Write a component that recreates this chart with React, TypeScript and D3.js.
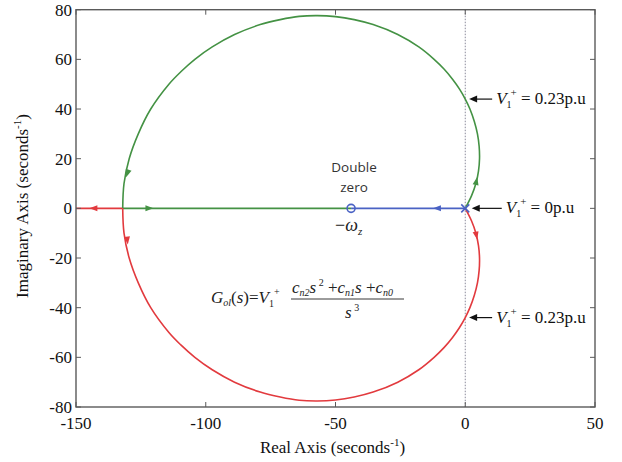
import React from "react";
import * as d3 from "d3";

// Root locus of G_ol(s) = V1+ (cn2 s^2 + cn1 s + cn0) / s^3
// Upper complex branch (green): leaves the triple pole at the origin,
// loops round and meets the real axis at the break-in point.
const greenBranch: [number, number][] = [
  [0, 0], [2.4, 5], [4.1, 10], [5.1, 15], [5.5, 20], [5.35, 25], [4.7, 30],
  [3.5, 35], [1.8, 40], [0, 44], [-2.2, 48], [-4.9, 52], [-8.1, 56],
  [-12, 60], [-17.9, 65], [-26, 70], [-35.5, 74], [-42.8, 76], [-50, 77.2],
  [-57, 77.6], [-64, 77.3], [-71.3, 76], [-79, 74], [-88.9, 70], [-97.5, 65],
  [-104.2, 60], [-109.6, 55], [-114.2, 50], [-121.2, 40], [-126, 30],
  [-129.5, 20], [-131.5, 10], [-132, 0],
];
// After break-in the green root travels right to the double zero.
const greenReal: [number, number][] = [[-132, 0], [-44, 0]];

// Lower complex branch (red) and its run to -infinity along the real axis.
const redBranch: [number, number][] = [
  [0, 0], [2.4, -5], [4.1, -10], [5.1, -15], [5.5, -20], [5.35, -25], [4.7, -30],
  [3.5, -35], [1.8, -40], [0, -44], [-2.2, -48], [-4.9, -52], [-8.1, -56],
  [-12, -60], [-17.9, -65], [-26, -70], [-35.5, -74], [-42.8, -76], [-50, -77.2],
  [-57, -77.6], [-64, -77.3], [-71.3, -76], [-79, -74], [-88.9, -70], [-97.5, -65],
  [-104.2, -60], [-109.6, -55], [-114.2, -50], [-121.2, -40], [-126, -30],
  [-129.5, -20], [-131.5, -10], [-132, 0],
];
const redReal: [number, number][] = [[-132, 0], [-150, 0]];

// Real branch (blue): origin to the double zero.
const blueReal: [number, number][] = [[0, 0], [-44, 0]];

const doubleZero = -44;
const polePoint: [number, number] = [0, 0];

// Direction arrows: [x, y, towardX, towardY]
const greenArrows: [number, number, number, number][] = [
  [4.3, 11, 5.1, 15],
  [-130.2, 14, -131.5, 10],
  [-121.7, 0, -110, 0],
];
const redArrows: [number, number, number, number][] = [
  [4.3, -11, 5.1, -15],
  [-130.2, -13, -129.5, -20],
  [-143.3, 0, -150, 0],
];
const blueArrows: [number, number, number, number][] = [[-10.9, 0, -20, 0]];

// Gain annotations: pointed-at location and label value
const gainNotes: { x: number; y: number; value: string; arrowLen: number }[] = [
  { x: 1.5, y: 44, value: "0.23", arrowLen: 23 },
  { x: 2.5, y: 0, value: "0", arrowLen: 30 },
  { x: 1.5, y: -44, value: "0.23", arrowLen: 23 },
];

const xTicks = [-150, -100, -50, 0, 50];
const yTicks = [-80, -60, -40, -20, 0, 20, 40, 60, 80];

const W = 622;
const H = 462;
const left = 76;
const right = 595;
const top = 9.7;
const bottom = 407;

const GREEN = "#449244";
const RED = "#e23a3e";
const BLUE = "#4a62c4";
const AXIS = "#5a5a5a";
const SERIF = "Liberation Serif";
const SANS = "Open Sans";

const serif = { fontFamily: SERIF };

export default function App() {
  const x = d3.scaleLinear().domain([-150, 50]).range([left, right]);
  const y = d3.scaleLinear().domain([-80, 80]).range([bottom, top]);

  const smooth = d3
    .line<[number, number]>()
    .x((d) => x(d[0]))
    .y((d) => y(d[1]))
    .curve(d3.curveCatmullRom.alpha(0.5));
  const straight = d3
    .line<[number, number]>()
    .x((d) => x(d[0]))
    .y((d) => y(d[1]));

  const arrowHead = (a: [number, number, number, number], color: string, key: string) => {
    const px = x(a[0]);
    const py = y(a[1]);
    const ang = Math.atan2(y(a[3]) - py, x(a[2]) - px) * (180 / Math.PI);
    return (
      <path
        key={key}
        d="M4,0 L-4,-3 L-4,3 Z"
        fill={color}
        transform={`translate(${px},${py}) rotate(${ang})`}
      />
    );
  };

  const x0 = x(polePoint[0]);
  const y0 = y(polePoint[1]);

  return (
    <svg
      width={W}
      height={H}
      style={{ position: "absolute", left: 0, top: 0, background: "#fff" }}
    >
      <rect x={0} y={0} width={W} height={H} fill="#fff" />

      {/* imaginary axis reference */}
      <line
        x1={x(0)}
        x2={x(0)}
        y1={top}
        y2={bottom}
        stroke="#8a8a9a"
        strokeWidth={1}
        strokeDasharray="1.5,1.5"
      />

      {/* loci */}
      <path d={straight(blueReal) ?? ""} fill="none" stroke={BLUE} strokeWidth={1.6} />
      <path d={straight(greenReal) ?? ""} fill="none" stroke={GREEN} strokeWidth={1.6} />
      <path d={straight(redReal) ?? ""} fill="none" stroke={RED} strokeWidth={1.6} />
      <path d={smooth(greenBranch) ?? ""} fill="none" stroke={GREEN} strokeWidth={1.6} />
      <path d={smooth(redBranch) ?? ""} fill="none" stroke={RED} strokeWidth={1.6} />

      {greenArrows.map((a, i) => arrowHead(a, GREEN, `g${i}`))}
      {redArrows.map((a, i) => arrowHead(a, RED, `r${i}`))}
      {blueArrows.map((a, i) => arrowHead(a, BLUE, `b${i}`))}

      {/* double zero and triple pole markers */}
      <circle cx={x(doubleZero)} cy={y(0)} r={4} fill="none" stroke={BLUE} strokeWidth={1.6} />
      <g stroke={BLUE} strokeWidth={1.6}>
        <line x1={x0 - 4} y1={y0 - 4} x2={x0 + 4} y2={y0 + 4} />
        <line x1={x0 - 4} y1={y0 + 4} x2={x0 + 4} y2={y0 - 4} />
      </g>

      {/* axes box with inward ticks */}
      <rect
        x={left}
        y={top}
        width={right - left}
        height={bottom - top}
        fill="none"
        stroke={AXIS}
        strokeWidth={1.4}
      />
      {xTicks.map((t) => (
        <g key={`xt${t}`} stroke={AXIS} strokeWidth={1}>
          <line x1={x(t)} x2={x(t)} y1={bottom} y2={bottom - 5} />
          <line x1={x(t)} x2={x(t)} y1={top} y2={top + 5} />
        </g>
      ))}
      {yTicks.map((t) => (
        <g key={`yt${t}`} stroke={AXIS} strokeWidth={1}>
          <line x1={left} x2={left + 5} y1={y(t)} y2={y(t)} />
          <line x1={right} x2={right - 5} y1={y(t)} y2={y(t)} />
        </g>
      ))}

      {xTicks.map((t) => (
        <text
          key={`xl${t}`}
          x={x(t)}
          y={bottom + 22}
          textAnchor="middle"
          fontFamily={SERIF}
          fontSize={17}
          fill="#111"
        >
          {t}
        </text>
      ))}
      {yTicks.map((t) => (
        <text
          key={`yl${t}`}
          x={left - 4}
          y={y(t) + 6}
          textAnchor="end"
          fontFamily={SERIF}
          fontSize={17}
          fill="#111"
        >
          {t}
        </text>
      ))}

      {/* axis titles */}
      <text
        x={(left + right) / 2 - 3}
        y={453}
        textAnchor="middle"
        fontFamily={SERIF}
        fontSize={17}
        fill="#111"
      >
        Real Axis (seconds
        <tspan fontSize={11} dy={-7}>-1</tspan>
        <tspan dy={7}>)</tspan>
      </text>
      <text
        transform={`translate(28,206) rotate(-90)`}
        textAnchor="middle"
        fontFamily={SERIF}
        fontSize={17}
        fill="#111"
      >
        Imaginary Axis (seconds
        <tspan fontSize={11} dy={-7}>-1</tspan>
        <tspan dy={7}>)</tspan>
      </text>

      {/* zero annotation */}
      <g fontFamily={SANS} fontSize={13.5} fill="#333" textAnchor="middle">
        <text x={354} y={172}>Double</text>
        <text x={354} y={192}>zero</text>
      </g>
      <text x={335} y={231} fontFamily={SERIF} fontSize={18} fill="#222">
        −<tspan fontStyle="italic">ω</tspan>
        <tspan fontStyle="italic" fontSize={11} dy={4}>z</tspan>
      </text>

      {/* gain annotations */}
      {gainNotes.map((n, i) => {
        const tipX = x(n.x);
        const ny = y(n.y);
        const tailX = tipX + n.arrowLen;
        return (
          <g key={`gn${i}`}>
            <line x1={tipX + 6} x2={tailX} y1={ny} y2={ny} stroke="#111" strokeWidth={1.2} />
            <path d={`M${tipX},${ny} L${tipX + 8},${ny - 3.5} L${tipX + 8},${ny + 3.5} Z`} fill="#111" />
            <text x={tailX + 4} y={ny + 5} fontFamily={SERIF} fontSize={17} fill="#111">
              <tspan fontStyle="italic">V</tspan>
              <tspan fontSize={10} dy={4}>1</tspan>
              <tspan fontSize={11} dy={-12} dx={-1}>+</tspan>
              <tspan dy={8}> = {n.value}p.u</tspan>
            </text>
          </g>
        );
      })}

      {/* open-loop transfer function */}
      <g fontFamily={SERIF} fontSize={17} fill="#222">
        <text x={211} y={303}>
          <tspan fontStyle="italic">G</tspan>
          <tspan fontStyle="italic" fontSize={10} dy={3}>ol</tspan>
          <tspan dy={-3}>(</tspan>
          <tspan fontStyle="italic">s</tspan>
          <tspan>)=</tspan>
          <tspan fontStyle="italic">V</tspan>
          <tspan fontSize={10} dy={4}>1</tspan>
          <tspan fontSize={10} dy={-12}>+</tspan>
        </text>
        <text x={292} y={293}>
          <tspan fontStyle="italic">c</tspan>
          <tspan fontStyle="italic" fontSize={10} dy={3}>n2</tspan>
          <tspan fontStyle="italic" dy={-3}>s</tspan>
          <tspan fontSize={10} dy={-7}> 2</tspan>
          <tspan dy={7}> +</tspan>
          <tspan fontStyle="italic">c</tspan>
          <tspan fontStyle="italic" fontSize={10} dy={3}>n1</tspan>
          <tspan fontStyle="italic" dy={-3}>s</tspan>
          <tspan> +</tspan>
          <tspan fontStyle="italic">c</tspan>
          <tspan fontStyle="italic" fontSize={10} dy={3}>n0</tspan>
        </text>
        <line x1={291} x2={404} y1={299} y2={299} stroke="#222" strokeWidth={0.9} />
        <text x={345} y={318}>
          <tspan fontStyle="italic">s</tspan>
          <tspan fontSize={10} dy={-7}> 3</tspan>
        </text>
      </g>
    </svg>
  );
}
